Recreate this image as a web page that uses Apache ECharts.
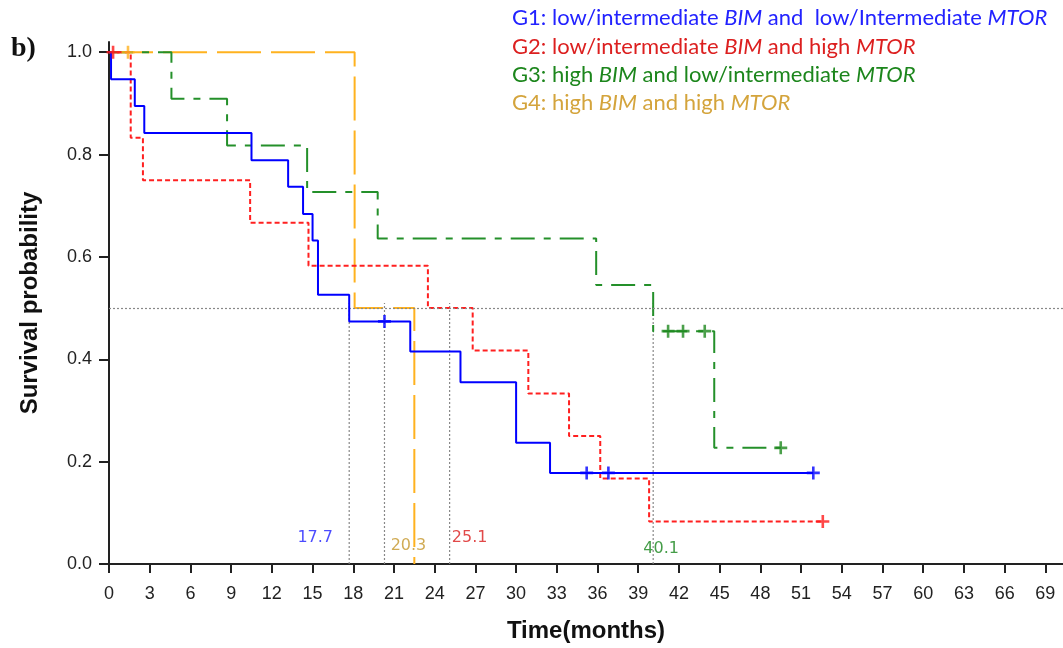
<!DOCTYPE html>
<html>
<head>
<meta charset="utf-8">
<script src="https://cdn.jsdelivr.net/npm/echarts@6/dist/echarts.min.js"></script>
<style>
  html, body { margin: 0; padding: 0; background: #fff; }
  #main { width: 1063px; height: 648px; }
</style>
</head>
<body>
<div id="main"></div>
<script>
'use strict'
// Kaplan-Meier curves, values (time in months, survival probability)
var g1Time = [0, 0.15, 1.9, 2.6, 10.5, 13.2, 14.3, 15.0, 15.4, 17.7, 22.2, 25.9, 30.0, 32.5, 51.9];
var g1Surv = [1.0, 0.947, 0.895, 0.842, 0.789, 0.737, 0.684, 0.632, 0.526, 0.474, 0.415, 0.355, 0.237, 0.178, 0.178];
var g1CensorTime = [20.3, 35.2, 36.8, 51.9];
var g1CensorSurv = [0.474, 0.178, 0.178, 0.178];

var g2Time = [0, 1.6, 2.5, 10.4, 14.7, 23.5, 26.8, 30.9, 33.9, 36.2, 39.8, 52.6];
var g2Surv = [1.0, 0.833, 0.75, 0.667, 0.583, 0.5, 0.417, 0.333, 0.25, 0.167, 0.083, 0.083];
var g2CensorTime = [0.3, 52.6];
var g2CensorSurv = [1.0, 0.083];

var g3Time = [0, 4.6, 8.7, 14.6, 19.8, 35.9, 40.1, 44.6, 49.5];
var g3Surv = [1.0, 0.909, 0.818, 0.727, 0.636, 0.545, 0.455, 0.227, 0.227];
var g3CensorTime = [41.2, 42.3, 43.9, 49.5];
var g3CensorSurv = [0.455, 0.455, 0.455, 0.227];

var g4Time = [0, 18.1, 22.5];
var g4Surv = [1.0, 0.5, 0.0];
var g4CensorTime = [1.4];
var g4CensorSurv = [1.0];

// median survival times
var medianValues = [17.7, 20.3, 25.1, 40.1];
var medianLevel = 0.5;

// axis ticks
var xTicks = [0, 3, 6, 9, 12, 15, 18, 21, 24, 27, 30, 33, 36, 39, 42, 45, 48, 51, 54, 57, 60, 63, 66, 69];
var yTicks = [0, 0.2, 0.4, 0.6, 0.8, 1.0];

// legend texts: [plain, italic, plain, italic]
var legendG1 = ['G1: low/intermediate ', 'BIM', ' and  low/Intermediate ', 'MTOR'];
var legendG2 = ['G2: low/intermediate ', 'BIM', ' and high ', 'MTOR'];
var legendG3 = ['G3: high ', 'BIM', ' and low/intermediate ', 'MTOR'];
var legendG4 = ['G4: high ', 'BIM', ' and high ', 'MTOR'];

var PLUS = 'path://M4,0h2v4h4v2h-4v4h-2v-4h-4v-2h4z';

function pairs(a, b) {
    return a.map(function (v, i) { return [v, b[i]]; });
}

function kmLine(name, t, s, color, dash, z) {
    return {
        name: name, type: 'line', step: 'end', symbol: 'none', z: z,
        data: pairs(t, s),
        lineStyle: { color: color, width: 2, type: dash }
    };
}

function censor(name, t, s, color) {
    return {
        name: name, type: 'scatter', symbol: PLUS, symbolSize: 13, z: 6,
        data: pairs(t, s),
        itemStyle: { color: color }
    };
}

function legendTitle(parts, color, top) {
    return {
        text: '{n|' + parts[0] + '}{i|' + parts[1] + '}{n|' + parts[2] + '}{i|' + parts[3] + '}',
        left: 512, top: top, padding: 0,
        textStyle: {
            fontWeight: 'normal',
            rich: {
                n: { fontFamily: 'Lato', fontSize: 22, fontWeight: 'normal', color: color },
                i: { fontFamily: 'Lato', fontSize: 22, fontWeight: 'normal', fontStyle: 'italic', color: color }
            }
        }
    };
}

var medianColors = ['#1e1eff', '#c4962a', '#d91c1c', '#17851a'];
var medianOffsets = [[-34, -26], [24, -18], [20, -26], [8, -15]];

var series = [
    kmLine('G4', g4Time, g4Surv, '#ffb21f', [44, 10], 2),
    kmLine('G3', g3Time, g3Surv, '#24902a', [24, 9, 7, 9], 3),
    kmLine('G2', g2Time, g2Surv, '#ff2020', [5, 3], 4),
    kmLine('G1', g1Time, g1Surv, '#0000ff', 'solid', 5),
    censor('G4c', g4CensorTime, g4CensorSurv, '#ffb21f'),
    censor('G3c', g3CensorTime, g3CensorSurv, '#1e881e'),
    censor('G2c', g2CensorTime, g2CensorSurv, '#ff1a1a'),
    censor('G1c', g1CensorTime, g1CensorSurv, '#0000ff')
];

// dotted median guides
medianValues.forEach(function (m, i) {
    var s = {
        type: 'line', symbol: 'none', z: 1,
        data: [[m, 0], [m, medianLevel + 0.01]],
        lineStyle: { color: '#888', width: 1.2, type: [2, 2] }
    };
    if (i === 0) {
        s.markLine = {
            silent: true, symbol: 'none', animation: false,
            label: { show: false },
            lineStyle: { color: '#888', width: 1.2, type: [2, 2] },
            data: [{ yAxis: medianLevel }]
        };
    }
    series.push(s);
});

// median labels
series.push({
    type: 'scatter', symbolSize: 0, z: 7,
    data: medianValues.map(function (m, i) {
        return {
            value: [m, 0],
            label: { offset: medianOffsets[i], color: medianColors[i] }
        };
    }),
    label: {
        show: true, position: 'inside',
        fontFamily: 'DejaVu Sans', fontSize: 16,
        formatter: function (p) { return p.value[0].toFixed(1); }
    }
});

var myChart = echarts.init(document.getElementById('main'));
myChart.setOption({
    animation: false,
    backgroundColor: '#fff',
    title: [
        legendTitle(legendG1, '#2222ff', 7),
        legendTitle(legendG2, '#dc1f1f', 36),
        legendTitle(legendG3, '#1c861c', 64),
        legendTitle(legendG4, '#d4a43c', 92),
        {
            text: 'b)', left: 11, top: 35, padding: 0,
            textStyle: { fontFamily: 'Liberation Serif', fontWeight: 'bold', fontSize: 28, color: '#111' }
        }
    ],
    grid: { left: 109, right: 0, top: 42, bottom: 82, containLabel: false },
    xAxis: {
        type: 'value', min: 0, max: 70.3, interval: 3,
        name: 'Time(months)', nameLocation: 'middle', nameGap: 55,
        nameTextStyle: { fontFamily: 'Liberation Sans', fontWeight: 'bold', fontSize: 24, color: '#111' },
        splitLine: { show: false },
        axisLine: { lineStyle: { color: '#222', width: 2 } },
        axisTick: { length: 9, lineStyle: { color: '#222', width: 2 }, customValues: xTicks },
        axisLabel: {
            customValues: xTicks, margin: 21,
            fontFamily: 'Liberation Sans', fontSize: 18, color: '#222'
        }
    },
    yAxis: {
        type: 'value', min: 0, max: 1.02, interval: 0.2,
        name: 'Survival probability', nameLocation: 'middle', nameGap: 67,
        nameTextStyle: { fontFamily: 'Liberation Sans', fontWeight: 'bold', fontSize: 24, color: '#111' },
        splitLine: { show: false },
        axisLine: { show: true, lineStyle: { color: '#222', width: 2 } },
        axisTick: { show: true, length: 10, lineStyle: { color: '#222', width: 2 }, customValues: yTicks },
        axisLabel: {
            customValues: yTicks, margin: 17,
            fontFamily: 'Liberation Sans', fontSize: 18, color: '#222',
            formatter: function (v) { return v.toFixed(1); }
        }
    },
    series: series
});
</script>
</body>
</html>
